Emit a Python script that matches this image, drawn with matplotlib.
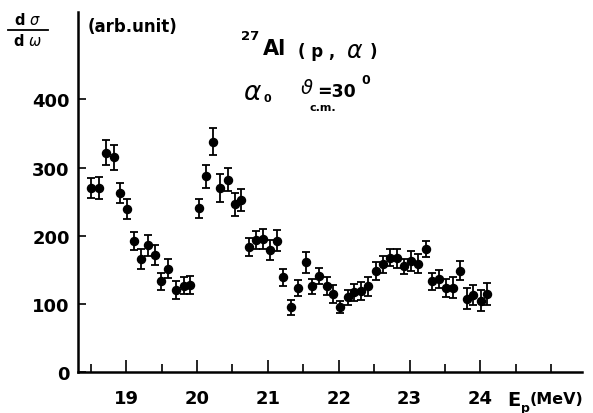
import matplotlib
matplotlib.use("Agg")
import matplotlib.pyplot as plt
from matplotlib.ticker import MultipleLocator

# 27Al(p,alpha0) excitation function at theta_cm = 30 deg
energy = [18.50, 18.61, 18.71, 18.82, 18.91, 19.01, 19.11, 19.21, 19.30, 19.40,
          19.49, 19.59, 19.70, 19.81, 19.90, 20.02, 20.12, 20.23, 20.32, 20.43,
          20.53, 20.62, 20.73, 20.83, 20.93, 21.03, 21.13, 21.21, 21.33, 21.43,
          21.54, 21.62, 21.72, 21.83, 21.92, 22.02, 22.13, 22.22, 22.32, 22.42,
          22.52, 22.63, 22.72, 22.82, 22.92, 23.02, 23.12, 23.23, 23.32, 23.41,
          23.52, 23.62, 23.72, 23.81, 23.90, 24.01, 24.10]
cross_section = [270, 270, 322, 315, 263, 239, 192, 166, 186, 172,
                 133, 152, 121, 127, 128, 240, 287, 338, 270, 282,
                 246, 252, 183, 194, 195, 179, 193, 139, 95, 123,
                 161, 126, 141, 126, 115, 96, 110, 117, 119, 126,
                 148, 158, 168, 167, 155, 163, 159, 181, 133, 137,
                 123, 124, 149, 108, 113, 105, 115]
error = [15, 16, 18, 18, 15, 15, 13, 15, 15, 15,
         13, 14, 13, 12, 13, 14, 17, 20, 20, 17,
         17, 16, 13, 13, 15, 15, 16, 12, 11, 12,
         15, 11, 12, 13, 13, 9, 11, 12, 13, 14,
         13, 13, 13, 14, 11, 15, 14, 12, 13, 13,
         13, 15, 14, 15, 15, 16, 16]

xticks = [19, 20, 21, 22, 23, 24]
yticks = [0, 100, 200, 300, 400]

W, H = 593, 414
plt.rcParams["mathtext.fontset"] = "dejavusans"
fig = plt.figure(figsize=(W / 100, H / 100), dpi=100)
ax = fig.add_axes([78 / W, 1 - 373.2 / H, (582 - 78) / W, (373.2 - 13) / H])

ax.errorbar(energy, cross_section, yerr=error, fmt="o", color="black",
            markersize=5.8, elinewidth=1.3, capsize=2.6, capthick=1.3)

ax.set_xlim(18.318, 25.436)
ax.set_ylim(0, 528)
ax.set_xticks(xticks)
ax.set_yticks(yticks)
ax.xaxis.set_minor_locator(MultipleLocator(0.5))

for side in ("top", "right"):
    ax.spines[side].set_visible(False)
for side in ("left", "bottom"):
    ax.spines[side].set_linewidth(1.8)

ax.tick_params(axis="both", which="both", direction="in", width=1.2)
ax.tick_params(axis="x", which="major", length=9, pad=12)
ax.tick_params(axis="x", which="minor", length=6)
ax.tick_params(axis="y", which="major", length=6, pad=6)
for lab in ax.get_xticklabels() + ax.get_yticklabels():
    lab.set_fontfamily("DejaVu Sans")
    lab.set_fontweight("bold")
    lab.set_fontsize(13)


def put(x, y, s, size, weight="bold", **kw):
    fig.text(x / W, 1 - y / H, s, fontsize=size, fontfamily="DejaVu Sans",
             fontweight=weight, **kw)


# d sigma / d omega
put(28, 20, r"d $\mathit{\sigma}$", 10.5, ha="center", va="center")
fig.add_artist(plt.Line2D([8 / W, 48 / W], [1 - 31 / H, 1 - 31 / H],
                          color="black", lw=1.3))
put(28, 41, r"d $\mathit{\omega}$", 10.5, ha="center", va="center")
put(88, 27, "(arb.unit)", 12, ha="left", va="center")

# reaction label
put(241, 37, "27", 9.5, ha="left", va="center")
put(263, 49, "Al", 15, ha="left", va="center")
put(298, 52, "( p ,", 12, ha="left", va="center")
put(346, 51, r"$\mathit{\alpha}$", 17, "normal", ha="left", va="center")
put(370, 52, ")", 12, ha="left", va="center")

put(243, 93, r"$\mathit{\alpha}$", 19, "normal", ha="left", va="center")
put(263, 99, "0", 8, ha="left", va="center")
put(300, 89, r"$\mathit{\vartheta}$", 14, "normal", ha="left", va="center")
put(317, 92, "=30", 12.5, ha="left", va="center")
put(361, 81, "0", 9, ha="left", va="center")
put(309, 108, "c.m.", 8, ha="left", va="center")

# x axis title
put(507, 401, "E", 14, ha="left", va="center")
put(521, 409, "p", 9, ha="left", va="center")
put(530, 400, "(MeV)", 11.5, ha="left", va="center")

fig.savefig("out.png", dpi=100)
